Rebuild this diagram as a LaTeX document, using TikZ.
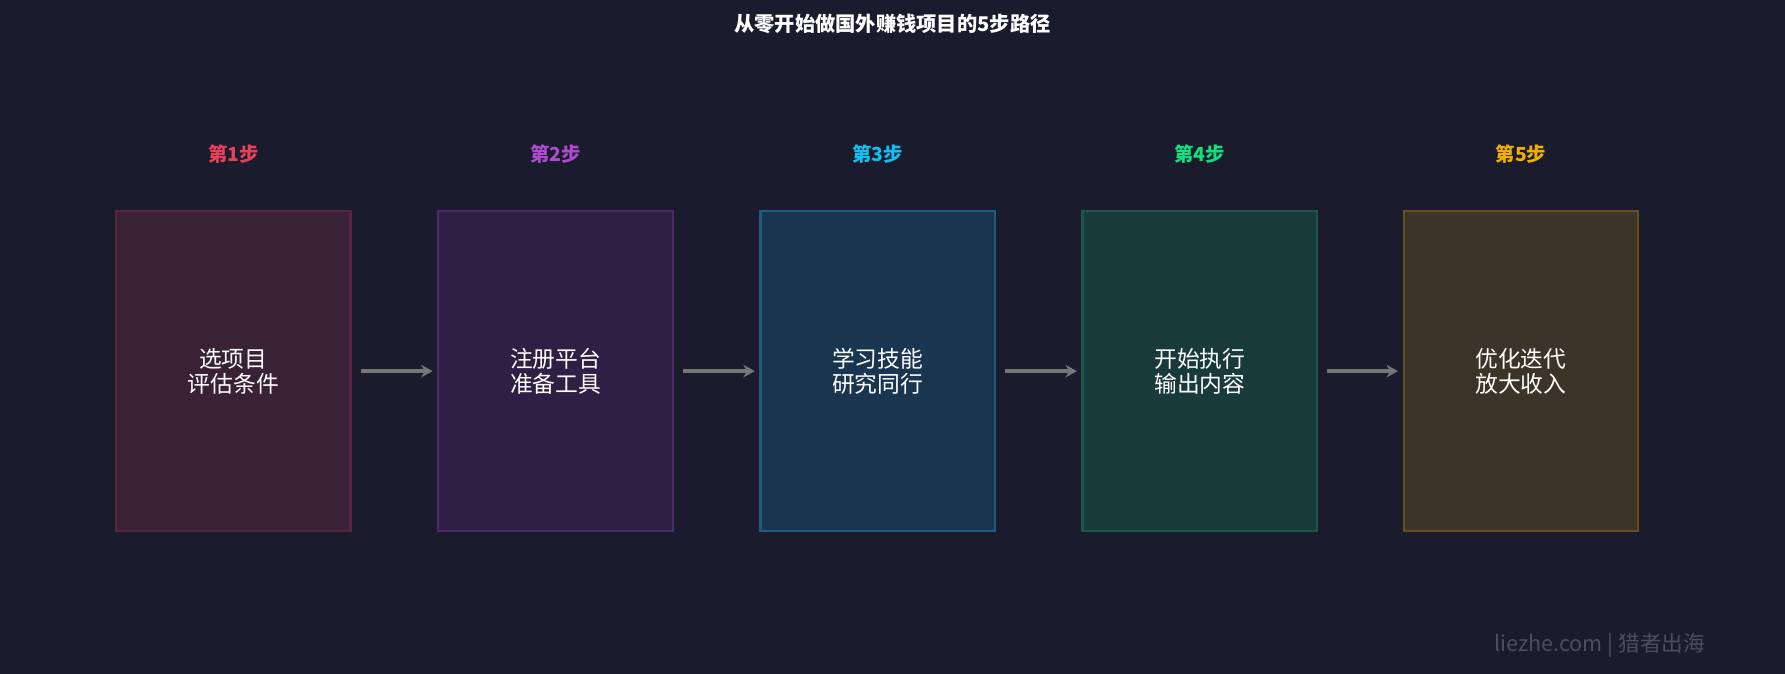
\documentclass[tikz,border=0pt]{standalone}
\usepackage{fontspec}
\setmainfont{Noto Sans CJK SC}
\usetikzlibrary{positioning,arrows.meta}
\definecolor{bg}{HTML}{1B1B2E}
\definecolor{arrowgray}{HTML}{777777}
\definecolor{fillA}{HTML}{3A2236}\definecolor{lineA}{HTML}{5A2540}\definecolor{stepA}{HTML}{E8405A}
\definecolor{fillB}{HTML}{301F45}\definecolor{lineB}{HTML}{4A2A6A}\definecolor{stepB}{HTML}{B04AD0}
\definecolor{fillC}{HTML}{1A3550}\definecolor{lineC}{HTML}{1F5A80}\definecolor{stepC}{HTML}{10C0F0}
\definecolor{fillD}{HTML}{183A3A}\definecolor{lineD}{HTML}{1A5A45}\definecolor{stepD}{HTML}{10E080}
\definecolor{fillE}{HTML}{3C3428}\definecolor{lineE}{HTML}{6A4E20}\definecolor{stepE}{HTML}{F0B000}
\tikzset{
  box/.style={draw=line#1,fill=fill#1,line width=2pt,minimum width=206pt,minimum height=281pt,
    text=white,align=center,font=\fontsize{20}{22}\selectfont},
  steplabel/.style={text=step#1,font=\bfseries\fontsize{17}{20}\selectfont},
  flow/.style={draw=arrowgray,line width=3pt,-{Stealth[length=10pt,width=11pt]}}
}
\begin{document}
\begin{tikzpicture}[x=1pt,y=-1pt]%
  \fill[bg] (0,0) rectangle (1568,592);
  \useasboundingbox (0,0) rectangle (1568,592);
  \node[text=white,font=\bfseries\fontsize{17.8}{20}\selectfont] (title) at (784,21) {从零开始做国外赚钱项目的5步路径};

  \node[box=A] (s1) at (205,326) {选项目\\评估条件};
  \node[box=B] (s2) at (488,326) {注册平台\\准备工具};
  \node[box=C] (s3) at (771,326) {学习技能\\研究同行};
  \node[box=D] (s4) at (1054,326) {开始执行\\输出内容};
  \node[box=E] (s5) at (1336,326) {优化迭代\\放大收入};

  \node[steplabel=A] (l1) at (205,135) {第1步};
  \node[steplabel=B] (l2) at (488,135) {第2步};
  \node[steplabel=C] (l3) at (771,135) {第3步};
  \node[steplabel=D] (l4) at (1054,135) {第4步};
  \node[steplabel=E] (l5) at (1336,135) {第5步};

  \foreach \a/\b in {s1/s2,s2/s3,s3/s4,s4/s5}
    \draw[flow] ([xshift=8pt]\a.east) -- ([xshift=-4pt]\b.west);

  \node[text=white!22!bg,font=\fontsize{19}{22}\selectfont] (mark) at (1405,567) {liezhe.com | 猎者出海};
\end{tikzpicture}
\end{document}
